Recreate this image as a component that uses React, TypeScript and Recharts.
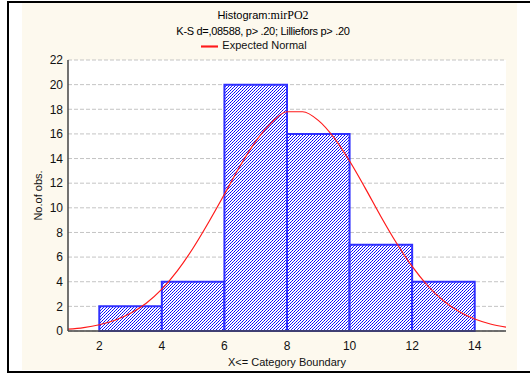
import React from 'react';
import {
  ComposedChart,
  Line,
  XAxis,
  YAxis,
  CartesianGrid,
  ReferenceArea,
  Legend,
} from 'recharts';

// histogram bins (upper boundary) and counts
const binStart = [2, 4, 6, 8, 10, 12];
const binEnd = [4, 6, 8, 10, 12, 14];
const binCount = [2, 4, 20, 16, 7, 4];

// expected normal curve
const curveX = [1, 1.5, 2, 2.5, 3, 3.5, 4, 4.5, 5, 5.5, 6, 6.5, 7, 7.5, 8, 8.5, 9, 9.5, 10, 10.5, 11, 11.5, 12, 12.5, 13, 13.5, 14, 14.5, 15];
const curveY = [0.15, 0.28, 0.51, 0.87, 1.44, 2.26, 3.4, 4.9, 6.74, 8.85, 11.1, 13.4, 15.4, 16.9, 17.8, 17.8, 17.1, 15.7, 13.8, 11.6, 9.3, 7.14, 5.24, 3.67, 2.46, 1.58, 0.97, 0.57, 0.32];

const xTicks = [2, 4, 6, 8, 10, 12, 14];
const yTicks = [0, 2, 4, 6, 8, 10, 12, 14, 16, 18, 20, 22];

const curve = curveX.map((x, i) => ({ x, normal: curveY[i] }));

const FONT = '"Liberation Sans", Arial, sans-serif';

export default function App() {
  return (
    <div style={{ position: 'absolute', left: 0, top: 0, width: 530, height: 374, background: '#fff', overflow: 'hidden', fontFamily: FONT }}>
      <div style={{ position: 'absolute', left: 7, top: 1, width: 560, height: 372, border: '2px solid #000', boxSizing: 'border-box' }} />
      <div style={{ position: 'absolute', left: 22, top: 3, width: 495, height: 367, background: '#fdf9ee' }} />
      <div style={{ position: 'absolute', left: 0, top: 8, width: 526, textAlign: 'center', fontSize: 11, lineHeight: '14px' }}>
        Histogram:<span style={{ fontFamily: '"Liberation Serif", serif', fontSize: 12 }}>mirPO2</span>
      </div>
      <div style={{ position: 'absolute', left: 0, top: 24, width: 526, textAlign: 'center', fontSize: 11, lineHeight: '14px', letterSpacing: -0.3 }}>
        K-S d=,08588, p&gt; .20; Lilliefors p&gt; .20
      </div>
      <div style={{ position: 'absolute', left: 0, top: 0 }}>
        <ComposedChart width={530} height={374} data={curve} margin={{ top: 60, right: 24, bottom: 3, left: 0 }}>
          <defs>
            <pattern id="hatch" width="6" height="6" patternUnits="userSpaceOnUse">
              <rect width="6" height="6" fill="#ffffff" />
              <rect x="0" y="2" width="1" height="1" fill="#0000ff" />
              <rect x="1" y="1" width="1" height="1" fill="#2b2bff" />
              <rect x="2" y="0" width="1" height="1" fill="#0000ff" />
              <rect x="0" y="5" width="1" height="1" fill="#0000ff" />
              <rect x="1" y="4" width="1" height="1" fill="#2b2bff" />
              <rect x="2" y="3" width="1" height="1" fill="#0000ff" />
              <rect x="3" y="2" width="1" height="1" fill="#2b2bff" />
              <rect x="4" y="1" width="1" height="1" fill="#0000ff" />
              <rect x="5" y="0" width="1" height="1" fill="#2b2bff" />
              <rect x="3" y="5" width="1" height="1" fill="#2b2bff" />
              <rect x="4" y="4" width="1" height="1" fill="#0000ff" />
              <rect x="5" y="3" width="1" height="1" fill="#2b2bff" />
            </pattern>
          </defs>
          <CartesianGrid vertical={false} stroke="#c4c4c4" strokeDasharray="4 2" fill="#ffffff" />
          <XAxis
            dataKey="x"
            type="number"
            domain={[1, 15]}
            ticks={xTicks}
            allowDataOverflow
            height={40}
            tickLine={false}
            tickSize={6}
            tickMargin={4}
            axisLine={{ stroke: '#444', strokeWidth: 1.5 }}
            tick={{ fontSize: 12, fill: '#111', fontFamily: FONT }}
            label={{ value: 'X<= Category Boundary', position: 'insideBottom', offset: 5, fontSize: 11, fill: '#111', fontFamily: FONT }}
          />
          <XAxis xAxisId="top" orientation="top" type="number" domain={[1, 15]} height={0} tick={false} tickLine={false} axisLine={{ stroke: '#444', strokeWidth: 1.5 }} />
          <YAxis
            type="number"
            domain={[0, 22]}
            ticks={yTicks}
            width={68}
            tickLine={false}
            tickSize={3}
            tickMargin={2}
            axisLine={{ stroke: '#444', strokeWidth: 1.5 }}
            tick={{ fontSize: 12, fill: '#111', fontFamily: FONT }}
            label={{ value: 'No.of obs.', angle: -90, position: 'insideLeft', offset: 38, fontSize: 11, fill: '#111', fontFamily: FONT, style: { textAnchor: 'middle' } }}
          />
          <YAxis yAxisId="right" orientation="right" type="number" domain={[0, 22]} width={0} tick={false} tickLine={false} axisLine={{ stroke: '#444', strokeWidth: 1.5 }} />
          {binCount.map((c, i) => (
            <ReferenceArea
              key={i}
              x1={binStart[i]}
              x2={binEnd[i]}
              y1={0}
              y2={c}
              fill="url(#hatch)"
              fillOpacity={1}
              stroke="#3030ff"
              strokeWidth={2}
            />
          ))}
          <Legend
            verticalAlign="middle"
            align="center"
            layout="horizontal"
            iconType="plainline"
            iconSize={17}
            wrapperStyle={{ top: 38, left: 6, fontSize: 11, fontFamily: FONT, color: '#111' }}
            formatter={(v) => <span style={{ color: '#111' }}>{v}</span>}
          />
          <Line
            type="monotone"
            dataKey="normal"
            name="Expected Normal"
            stroke="#ff1a1a"
            strokeWidth={1.2}
            dot={false}
            isAnimationActive={false}
          />
        </ComposedChart>
      </div>
    </div>
  );
}
